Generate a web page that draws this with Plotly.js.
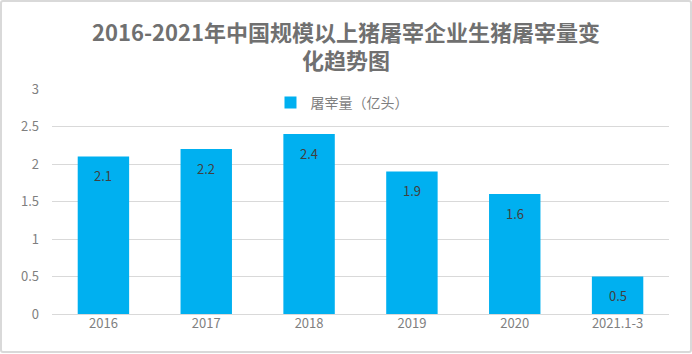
<!DOCTYPE html>
<html>
<head>
<meta charset="utf-8">
<script src="https://cdn.plot.ly/plotly-3.0.1.min.js"></script>
<style>
  html, body { margin: 0; padding: 0; background: #ffffff; }
  #wrap { position: relative; width: 692px; height: 354px; }
  #chart { position: absolute; left: 0; top: 0; width: 692px; height: 354px; }
  #frame { position: absolute; left: 0px; top: 0px; width: 688px; height: 349px;
           border: 2px solid #d9d9d9; border-radius: 3px; pointer-events: none; }
</style>
</head>
<body>
<div id="wrap">
  <div id="chart"></div>
  <div id="frame"></div>
</div>
<script>
const categories = ["2016", "2017", "2018", "2019", "2020", "2021.1-3"];
const slaughterVolume = [2.1, 2.2, 2.4, 1.9, 1.6, 0.5];
const seriesName = "屠宰量（亿头）";
const yTicks = [0, 0.5, 1, 1.5, 2, 2.5, 3];
const chartTitle = "2016-2021年中国规模以上猪屠宰企业生猪屠宰量变<br>化趋势图";

const fontFamily = "'Noto Sans CJK SC', 'Noto Sans', sans-serif";
const titleGray = "#707070";
const tickGray = "#7f7f7f";

const trace = {
  type: "bar",
  x: categories,
  y: slaughterVolume,
  name: seriesName,
  marker: { color: "#00B0F0" },
  width: 0.5,
  hoverinfo: "none"
};

// annotations use the category index so that numeric-looking names are not read as positions
const annotations = categories.map((c, i) => ({
  x: i, y: slaughterVolume[i], xref: "x", yref: "y",
  text: String(slaughterVolume[i]),
  showarrow: false, yanchor: "middle", yshift: -19,
  font: { family: fontFamily, size: 13, color: "#404040" }
}));

const layout = {
  width: 692, height: 354,
  margin: { l: 52, r: 23, t: 89, b: 40 },
  paper_bgcolor: "rgba(0,0,0,0)",
  plot_bgcolor: "rgba(0,0,0,0)",
  title: {
    text: chartTitle,
    font: { family: fontFamily, size: 22, color: titleGray, weight: "bold" },
    x: 0.5, xanchor: "center", yref: "container", y: 0.885, yanchor: "top"
  },
  showlegend: true,
  legend: {
    orientation: "h", x: 0.47, xanchor: "center", y: 1.009, yanchor: "top",
    font: { family: fontFamily, size: 14, color: tickGray },
    bgcolor: "rgba(255,255,255,0)", itemwidth: 30
  },
  xaxis: {
    type: "category",
    range: [-0.5, categories.length - 0.5],
    showgrid: false, showline: false, zeroline: false, ticks: "",
    tickfont: { family: fontFamily, size: 13, color: tickGray },
    fixedrange: true
  },
  yaxis: {
    range: [0, 3], tickvals: yTicks, ticktext: yTicks.map(String),
    showgrid: true, gridcolor: "#d9d9d9", gridwidth: 1,
    zeroline: true, zerolinecolor: "#d9d9d9", zerolinewidth: 1,
    showline: false, ticks: "", ticklen: 0, ticklabelstandoff: 12,
    tickfont: { family: fontFamily, size: 13, color: tickGray },
    fixedrange: true
  },
  annotations: annotations,
  bargap: 0.5
};

Plotly.newPlot("chart", [trace], layout, { displayModeBar: false, staticPlot: true });
</script>
</body>
</html>
